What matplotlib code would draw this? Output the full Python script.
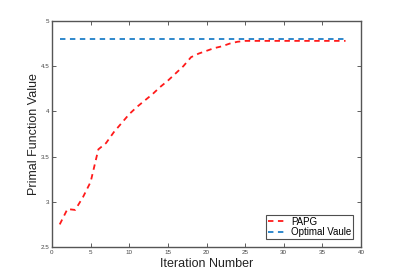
import matplotlib
matplotlib.use("Agg")
import matplotlib.pyplot as plt

plt.rcParams['font.family'] = ['Liberation Sans', 'DejaVu Sans']

iters = list(range(1, 39))
papg = [2.75, 2.92, 2.91, 3.05, 3.22, 3.58, 3.65, 3.77, 3.87, 3.97,
        4.05, 4.12, 4.19, 4.27, 4.34, 4.42, 4.50, 4.60, 4.64, 4.67,
        4.70, 4.72, 4.75, 4.77, 4.78, 4.78, 4.78, 4.78, 4.78, 4.78,
        4.78, 4.78, 4.78, 4.78, 4.78, 4.78, 4.78, 4.78]
optimal = [4.80] * len(iters)

fig = plt.figure(figsize=(3.99, 2.78), dpi=100)
ax = fig.add_axes([52/399, 1-247/278, 309/399, 226/278])
ax.plot(iters, papg, color='#ff1a1a', linestyle=(0, (3, 2.5)), linewidth=1.3, label='PAPG')
ax.plot(iters, optimal, color='#1f7fc8', linestyle=(0, (3, 2.5)), linewidth=1.3, label='Optimal Vaule')
ax.set_xlim(0, 40)
ax.set_ylim(2.5, 5)
ax.set_xticks([0, 5, 10, 15, 20, 25, 30, 35, 40])
ax.set_yticks([2.5, 3, 3.5, 4, 4.5, 5])
ax.set_yticklabels(['2.5', '3', '3.5', '4', '4.5', '5'])
ax.tick_params(direction='in', top=True, right=True, labelsize=4.5, length=3,
               width=0.6, colors='#444444', pad=2)
for s in ax.spines.values():
    s.set_color('#555555')
    s.set_linewidth(1.0)
ax.set_xlabel('Iteration Number', fontsize=9, labelpad=2, color='#222222')
ax.set_ylabel('Primal Function Value', fontsize=9, labelpad=0, color='#222222')
leg = ax.legend(loc='lower right', fontsize=7, frameon=True, fancybox=False,
                edgecolor='#222222', borderpad=0.2, handlelength=2.0,
                handletextpad=0.4, labelspacing=0.05, borderaxespad=0.8)
leg.get_frame().set_linewidth(0.8)
fig.savefig('out.png', dpi=100)
